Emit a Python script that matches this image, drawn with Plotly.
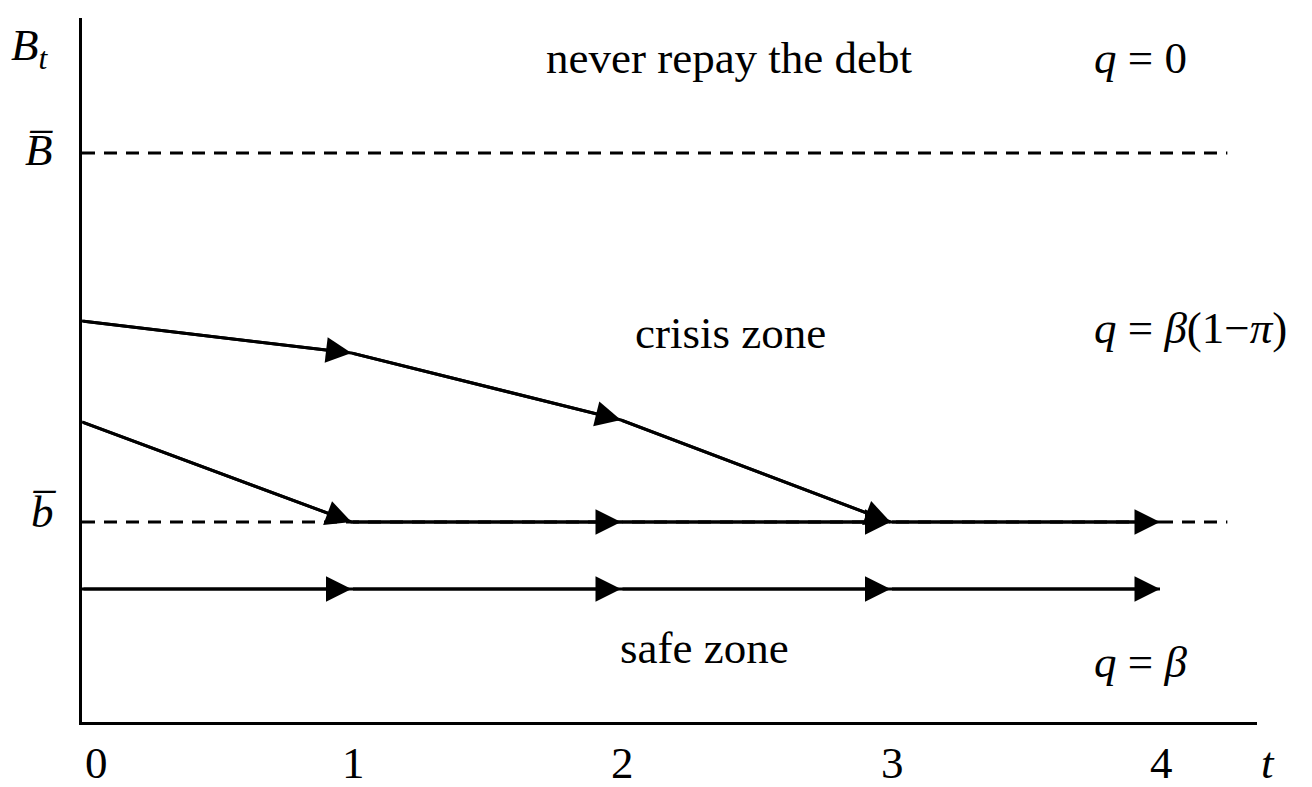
import plotly.graph_objects as go

# ---- data ----
periods = [0, 1, 2, 3, 4]
tick_labels = ["0", "1", "2", "3", "4"]
B_upper = 5.69          # \bar B threshold
b_lower = 2.00          # \bar b threshold
path_high_t = [0, 1, 2, 3]
path_high_B = [4.01, 3.69, 3.02, 2.00]
path_mid_t = [0, 1, 2, 3, 4]
path_mid_B = [3.00, 2.00, 2.00, 2.00, 2.00]
path_low_t = [0, 1, 2, 3, 4]
path_low_B = [1.33, 1.33, 1.33, 1.33, 1.33]
dash_end = 4.25
x_max = 4.36
y_max = 7.04

FONT = "Liberation Serif, Times New Roman, serif"
FS = 45

fig = go.Figure()

# dashed thresholds
for yv in [B_upper, b_lower]:
    fig.add_trace(go.Scatter(x=[0, dash_end], y=[yv, yv], mode="lines",
                             line=dict(color="black", width=3, dash="13px,9px"),
                             hoverinfo="skip", showlegend=False))

# paths
for tx, by in [(path_high_t, path_high_B), (path_mid_t, path_mid_B), (path_low_t, path_low_B)]:
    fig.add_trace(go.Scatter(x=tx, y=by, mode="lines",
                             line=dict(color="black", width=3),
                             hoverinfo="skip", showlegend=False))

annotations = []
# arrowheads at every step
for tx, by in [(path_high_t, path_high_B), (path_mid_t, path_mid_B), (path_low_t, path_low_B)]:
    for i in range(1, len(tx)):
        annotations.append(dict(x=tx[i], y=by[i], ax=tx[i - 1], ay=by[i - 1],
                                xref="x", yref="y", axref="x", ayref="y",
                                text="", showarrow=True, arrowhead=2,
                                arrowsize=1.7, arrowwidth=3, arrowcolor="black",
                                standoff=0, startstandoff=0))

def txt(x, y, s, xref="x", yref="y", xanchor="center", yanchor="middle", xshift=0, size=FS):
    annotations.append(dict(x=x, y=y, xref=xref, yref=yref, text=s, showarrow=False,
                            xanchor=xanchor, yanchor=yanchor, xshift=xshift,
                            font=dict(family=FONT, size=size, color="black")))

# tick labels (below the axis, paper y)
for p, lab in zip(periods, tick_labels):
    txt(p, -0.058, lab, yref="paper", xshift=14 if p == 0 else 2)
txt(1.009, -0.058, "<i>t</i>", xref="paper", yref="paper")

# y labels (left of the axis, paper x)
txt(-0.044, 1.0, "<i>B</i><sub><i>t</i></sub>", xref="paper", yref="paper", yanchor="top")
txt(-0.037, B_upper + 0.03, "<i>B\u0305</i>", xref="paper")
txt(-0.033, b_lower + 0.10, "<i>b\u0305</i>", xref="paper")

# zone labels
txt(2.404, 6.64, "never repay the debt")
txt(2.408, 3.89, "crisis zone")
txt(2.308, 0.74, "safe zone")
txt(3.748, 6.64, "<i>q</i> = 0", xanchor="left")
txt(3.748, 3.94, "<i>q</i> = <i>\u03b2</i>(1\u2212<i>\u03c0</i>)", xanchor="left")
txt(3.748, 0.60, "<i>q</i> = <i>\u03b2</i>", xanchor="left")

fig.update_layout(
    width=1312, height=787,
    margin=dict(l=74, r=63, t=10, b=73),
    plot_bgcolor="white", paper_bgcolor="white",
    annotations=annotations,
    xaxis=dict(range=[0, x_max], showgrid=False, zeroline=False, showticklabels=False,
               ticks="", showline=True, linecolor="black", linewidth=3, fixedrange=True),
    yaxis=dict(range=[0, y_max], showgrid=False, zeroline=False, showticklabels=False,
               ticks="", showline=True, linecolor="black", linewidth=3, fixedrange=True),
)

fig.write_html("out.html")
